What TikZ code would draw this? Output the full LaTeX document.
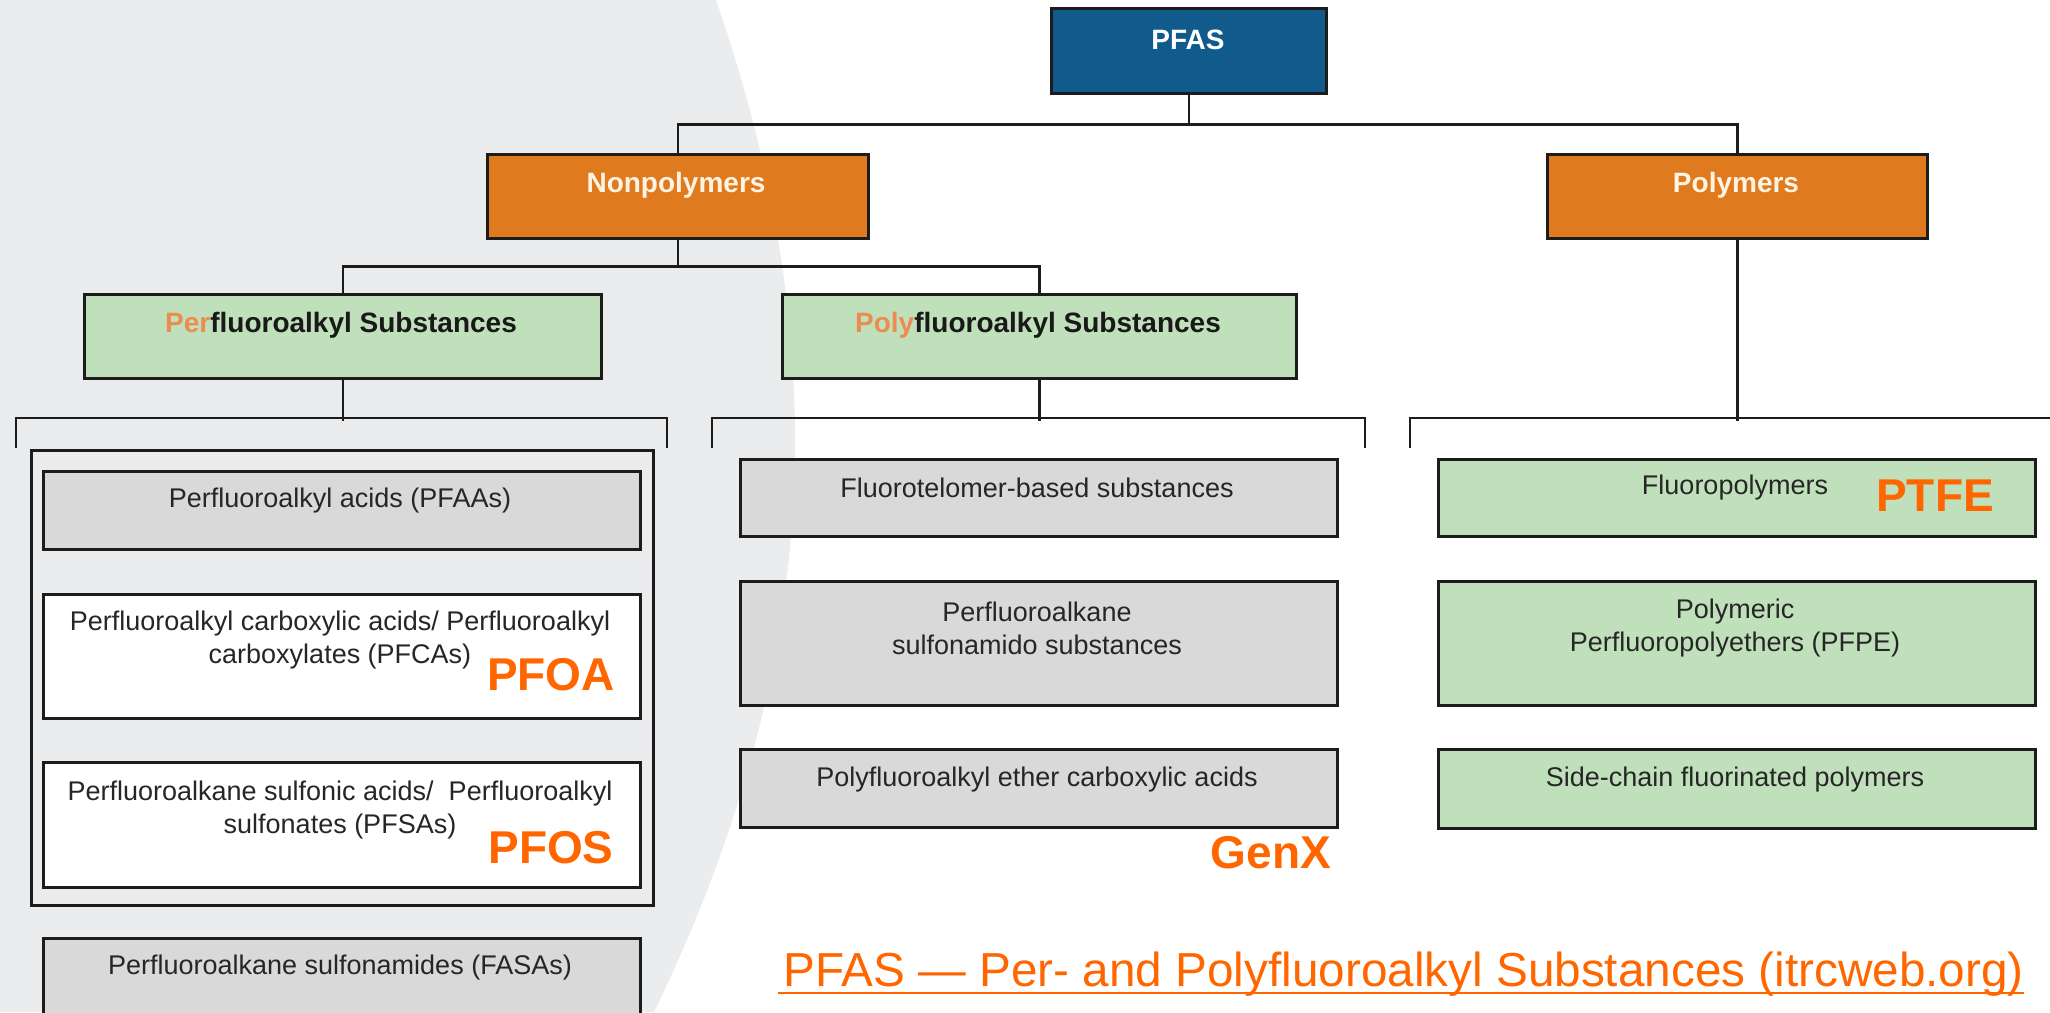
\documentclass[tikz,border=0pt]{standalone}
\usepackage{fontspec}
\setmainfont{Liberation Sans}
\usepackage{tikz}
\usetikzlibrary{positioning, calc}
\usepackage{xcolor}

\definecolor{pfasblue}{RGB}{17,91,140}
\definecolor{catorange}{RGB}{224,122,31}
\definecolor{catgreen}{RGB}{192,224,187}
\definecolor{catgrey}{RGB}{217,217,217}
\definecolor{bgshade}{RGB}{235,236,238}
\definecolor{tagorange}{RGB}{255,102,0}
\definecolor{softorange}{RGB}{236,140,80}
\definecolor{linegrey}{RGB}{28,28,28}
\definecolor{txtgrey}{RGB}{38,38,38}
\definecolor{cream}{RGB}{255,244,226}

\begin{document}
\begin{tikzpicture}[x=1pt, y=-1pt,
  box/.style={draw=linegrey, line width=2.8pt, anchor=north west, inner sep=0pt},
  head/.style={font=\fontsize{28}{32}\selectfont\bfseries, inner sep=0pt},
  txt/.style={font=\fontsize{27}{33}\selectfont, text=txtgrey, align=center, inner sep=0pt},
  tag/.style={font=\fontsize{46}{50}\selectfont\bfseries, text=tagorange, inner sep=0pt},
  link/.style={draw=linegrey, line width=2.8pt}]
  \useasboundingbox (0,0) rectangle (2050,1012);

  % Shaded background on the left
  \fill[bgshade] (0,0) -- (716,0) .. controls (830,330) and (830,650) .. (654,1012) -- (0,1012) -- cycle;

  % Top levels
  \node[box, fill=pfasblue, minimum width=275, minimum height=85] (pfas) at (1050,7) {};
  \node[box, fill=catorange, minimum width=381, minimum height=84] (nonpoly) at (486,153) {};
  \node[box, fill=catorange, minimum width=380, minimum height=84] (poly) at (1546,153) {};
  \node[box, fill=catgreen, minimum width=517, minimum height=84] (perfl) at (83,293) {};
  \node[box, fill=catgreen, minimum width=514, minimum height=84] (polyfl) at (781,293) {};

  \node[head, text=white] (pfas-t) at (1188,40) {PFAS};
  \node[head, text=cream] (nonpoly-t) at (676,185) {Nonpolymers};
  \node[head, text=cream] (poly-t) at (1736,185) {Polymers};
  \node[head, text=black!90] (perfl-t) at (341,325) {\textcolor{softorange}{Per}fluoroalkyl Substances};
  \node[head, text=black!90] (polyfl-t) at (1038,325) {\textcolor{softorange}{Poly}fluoroalkyl Substances};

  % Tree lines
  \draw[link] (pfas.south) -- ++(0,30) -| (nonpoly.north);
  \draw[link] (pfas.south) -- ++(0,30) -| (poly.north);
  \draw[link] (nonpoly.south) -- ++(0,27) -| (perfl.north);
  \draw[link] (nonpoly.south) -- ++(0,27) -| (polyfl.north);

  % Brackets
  \coordinate (b1l) at (16,448);
  \coordinate (b1r) at (667,448);
  \coordinate (b2l) at (712,448);
  \coordinate (b2r) at (1365,448);
  \coordinate (b3l) at (1410,448);
  \coordinate (b3r) at (2060,418);
  \draw[link] (perfl.south) -- ++(0,41);
  \draw[link] (b1l) -- ++(0,-30) -- ($(b1r)+(0,-30)$) -- (b1r);
  \draw[link] (polyfl.south) -- ++(0,41);
  \draw[link] (b2l) -- ++(0,-30) -- ($(b2r)+(0,-30)$) -- (b2r);
  \draw[link] (poly.south) -- ++(0,181);
  \draw[link] (b3l) -- ++(0,-30) -- (b3r);

  % Perfluoroalkyl column
  \node[box, minimum width=622, minimum height=455] (pfgroup) at (30,449) {};
  \node[box, fill=catgrey, minimum width=597, minimum height=78] (pfaa) at (42,470) {};
  \node[box, fill=white, minimum width=597, minimum height=124] (pfca) at (42,593) {};
  \node[box, fill=white, minimum width=597, minimum height=125] (pfsa) at (42,761) {};
  \node[box, fill=catgrey, minimum width=597, minimum height=100] (fasa) at (42,937) {};

  \node[txt] (pfaa-t) at (340,501) {Perfluoroalkyl acids (PFAAs)};
  \node[txt] (pfca-t) at (340,640) {Perfluoroalkyl carboxylic acids/ Perfluoroalkyl\\carboxylates (PFCAs)};
  \node[txt] (pfsa-t) at (340,810) {Perfluoroalkane sulfonic acids/\ \ Perfluoroalkyl\\sulfonates (PFSAs)};
  \node[txt] (fasa-t) at (340,967) {Perfluoroalkane sulfonamides (FASAs)};

  % Polyfluoroalkyl column
  \node[box, fill=catgrey, minimum width=597, minimum height=77] (ftel) at (739,458) {};
  \node[box, fill=catgrey, minimum width=597, minimum height=124] (fasamido) at (739,580) {};
  \node[box, fill=catgrey, minimum width=597, minimum height=78] (ether) at (739,748) {};

  \node[txt] (ftel-t) at (1037,488) {Fluorotelomer-based substances};
  \node[txt] (fasamido-t) at (1037,628) {Perfluoroalkane\\sulfonamido substances};
  \node[txt] (ether-t) at (1037,780) {Polyfluoroalkyl ether carboxylic acids};

  % Polymers column
  \node[box, fill=catgreen, minimum width=597, minimum height=77] (fpoly) at (1437,458) {};
  \node[box, fill=catgreen, minimum width=597, minimum height=124] (pfpe) at (1437,580) {};
  \node[box, fill=catgreen, minimum width=597, minimum height=79] (sidech) at (1437,748) {};

  \node[txt] (fpoly-t) at (1735,488) {Fluoropolymers};
  \node[txt] (pfpe-t) at (1735,628) {Polymeric\\Perfluoropolyethers (PFPE)};
  \node[txt] (sidech-t) at (1735,780) {Side-chain fluorinated polymers};

  % Highlighted examples
  \node[tag] (pfoa) at (551,675) {PFOA};
  \node[tag] (pfos) at (551,848) {PFOS};
  \node[tag] (genx) at (1271,853) {GenX};
  \node[tag] (ptfe) at (1935,496) {PTFE};

  % Source link
  \node[font=\fontsize{47.7}{50}\selectfont, text=tagorange, inner sep=0pt, anchor=base west] (src) at (783,986) {PFAS --- Per- and Polyfluoroalkyl Substances (itrcweb.org)};
  \draw[tagorange, line width=2.5pt] ([xshift=-5pt, yshift=-7pt]src.base west) -- ([yshift=-7pt]src.base east);
\end{tikzpicture}
\end{document}
